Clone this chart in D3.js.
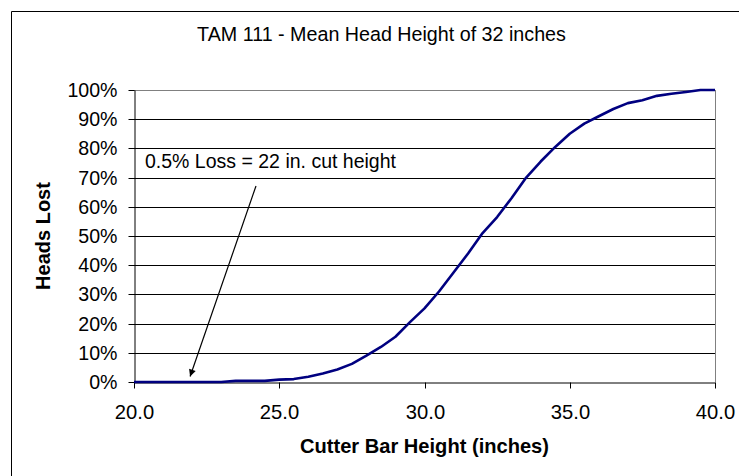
<!DOCTYPE html>
<html><head><meta charset="utf-8">
<script src="https://cdn.jsdelivr.net/npm/d3@7"></script>
<style>body{margin:0;background:#fff}svg{display:block}text{font-family:"Liberation Sans",Arial,sans-serif;fill:#000}</style>
</head><body><svg id="c" width="739" height="476"></svg>
<script>
const heights = [20,20.5,21,21.5,22,22.5,23,23.5,24,24.5,25,25.5,26,26.5,27,27.5,28,28.5,29,29.5,30,30.5,31,31.5,32,32.5,33,33.5,34,34.5,35,35.5,36,36.5,37,37.5,38,38.5,39,39.5,40];
const lost = [0,0,0,0,0,0,0,0.4,0.4,0.4,0.8,1.0,1.8,2.9,4.3,6.2,9.0,12.0,15.5,20.5,25.2,31,37.5,44,51,56.5,63,70,75.5,80.5,85,88.5,91,93.5,95.5,96.5,98,98.7,99.3,100,100];
const xTicks = [20,25,30,35,40];
const yTicks = [0,10,20,30,40,50,60,70,80,90,100];
const title = "TAM 111 - Mean Head Height of 32 inches";
const xTitle = "Cutter Bar Height (inches)";
const yTitle = "Heads Lost";
const note = "0.5% Loss = 22 in. cut height";
const noteX = 22, noteY = 0.5;

const svg = d3.select("#c");
const L=134, R=715, T=90, B=382;
const x = d3.scaleLinear().domain([20,40]).range([L,R]);
const y = d3.scaleLinear().domain([0,100]).range([B,T]);

// outer frame (left & top visible)
svg.append("path").attr("d","M11.5,476V11.5H739").attr("fill","none").attr("stroke","#000").attr("stroke-width",1);

// gridlines
svg.append("g").selectAll("line").data(yTicks.slice(1)).join("line")
  .attr("x1",L).attr("x2",R).attr("y1",d=>Math.round(y(d))+0.5).attr("y2",d=>Math.round(y(d))+0.5)
  .attr("stroke",(d)=>d===100?"#808080":"#000").attr("stroke-width",1);
// right plot border
svg.append("line").attr("x1",R+0.5).attr("x2",R+0.5).attr("y1",T).attr("y2",B).attr("stroke","#808080");

// y axis
const yAx = svg.append("g").attr("transform",`translate(${L+0.5},0)`)
  .call(d3.axisLeft(y).tickValues(yTicks).tickFormat(d=>d+"%").tickSize(6).tickPadding(11).tickSizeOuter(0));
yAx.select(".domain").attr("stroke","#000");
yAx.selectAll(".tick line").attr("stroke","#000");
yAx.selectAll("text").attr("font-size",19.6).attr("font-family","Liberation Sans, Arial, sans-serif").attr("fill","#000");
yAx.selectAll(".tick").attr("transform",d=>`translate(0,${Math.round(y(d))+0.5})`);

// x axis
const xAx = svg.append("g").attr("transform",`translate(0,${B+0.5})`)
  .call(d3.axisBottom(x).tickValues(xTicks).tickFormat(d3.format(".1f")).tickSize(6).tickPadding(16).tickSizeOuter(0));
xAx.select(".domain").attr("stroke","#000");
xAx.selectAll(".tick line").attr("stroke","#000");
xAx.selectAll("text").attr("font-size",20.2).attr("font-family","Liberation Sans, Arial, sans-serif").attr("fill","#000");
xAx.selectAll(".tick").attr("transform",d=>`translate(${Math.round(x(d))+0.5},0)`);

// curve
svg.append("path").datum(heights.map((h,i)=>[h,lost[i]]))
  .attr("d",d3.line().x(d=>x(d[0])).y(d=>y(d[1])))
  .attr("fill","none").attr("stroke","#000080").attr("stroke-width",2.6).attr("stroke-linejoin","round");

// titles
svg.append("text").attr("x",381.5).attr("y",40.5).attr("text-anchor","middle").attr("font-size",19.7).text(title);
svg.append("text").attr("x",(L+R)/2).attr("y",453).attr("text-anchor","middle").attr("font-size",20.1).attr("font-weight","bold").text(xTitle);
svg.append("text").attr("transform",`translate(50,${(T+B)/2}) rotate(-90)`).attr("text-anchor","middle").attr("font-size",20).attr("font-weight","bold").text(yTitle);

// annotation
svg.append("defs").append("marker").attr("id","ah").attr("viewBox","0 0 10 10").attr("refX",10).attr("refY",5)
  .attr("markerWidth",9).attr("markerHeight",7).attr("markerUnits","userSpaceOnUse").attr("orient","auto")
  .append("path").attr("d","M0,0L10,5L0,10z").attr("fill","#000");
svg.append("text").attr("x",145).attr("y",168).attr("font-size",19.5).text(note);
svg.append("line").attr("x1",256).attr("y1",186).attr("x2",x(noteX)-2).attr("y2",y(noteY)-4)
  .attr("stroke","#000").attr("stroke-width",1.2).attr("marker-end","url(#ah)");
</script></body></html>
